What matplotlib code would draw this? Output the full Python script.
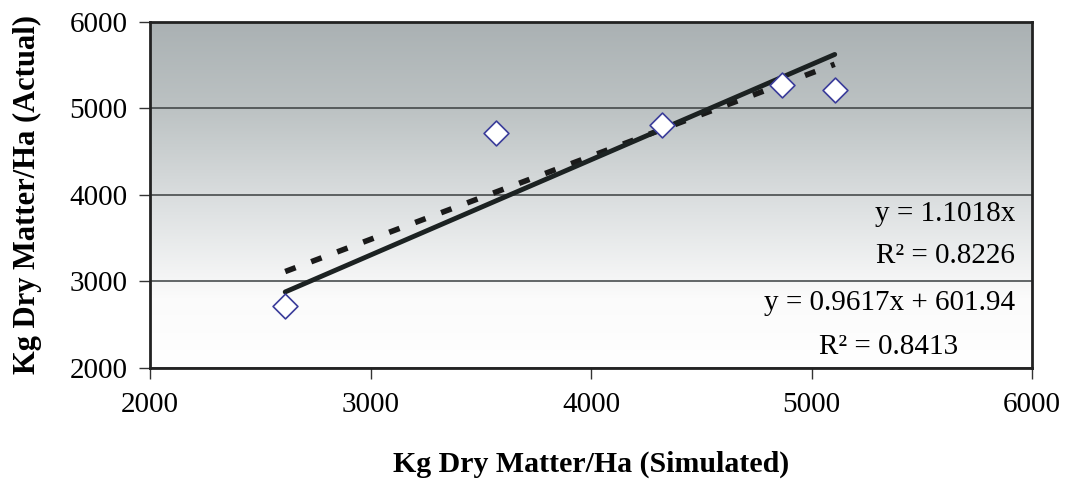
import numpy as np
import matplotlib as mpl
mpl.use("Agg")
import matplotlib.pyplot as plt
from matplotlib.colors import LinearSegmentedColormap

plt.rcParams['font.family'] = ['Liberation Serif', 'DejaVu Serif']

# simulated vs actual dry matter yield
simulated = [2613, 3568, 4320, 4864, 5105]
actual = [2719, 4712, 4804, 5277, 5212]

# trendline coefficients
slope0 = 1.1018              # through origin
r2_0 = 0.8226
slope1, icept1 = 0.9617, 601.94
r2_1 = 0.8413

xticks = [2000, 3000, 4000, 5000, 6000]
yticks = [2000, 3000, 4000, 5000, 6000]

fig = plt.figure(figsize=(10.77, 4.95), dpi=100)
ax = fig.add_axes([0.1393, 0.2566, 0.8190, 0.6990])

# gray to white vertical gradient behind the data
grad = LinearSegmentedColormap.from_list(
    "bg", [(0.0, "#ffffff"), (0.2, "#fbfbfb"), (0.45, "#dfe2e3"),
           (0.75, "#bcc2c3"), (1.0, "#aab1b3")])
ax.imshow(np.linspace(0, 1, 256).reshape(-1, 1), cmap=grad, aspect="auto",
          origin="lower", extent=[2000, 6000, 2000, 6000], zorder=0)

ax.set_xlim(2000, 6000)
ax.set_ylim(2000, 6000)
ax.set_xticks(xticks)
ax.set_yticks(yticks)
ax.tick_params(axis="both", labelsize=21, length=8, width=1, direction="out",
               color="#333333")
ax.tick_params(axis="y", pad=8)
ax.tick_params(axis="x", pad=9)
ax.yaxis.grid(True, color="#3a3f40", linewidth=1.1, zorder=1)
for s in ax.spines.values():
    s.set_color("#222222")
    s.set_linewidth(2)

xs = np.array([min(simulated), max(simulated)])
ax.plot(xs, slope1 * xs + icept1, color="#1a1a1a", linewidth=4,
        linestyle=(0, (2.0, 3.0)), zorder=3)
ax.plot(xs, slope0 * xs, color="#1c2222", linewidth=3.5,
        solid_capstyle="round", zorder=4)
ax.scatter(simulated, actual, marker="D", s=160, facecolors="white",
           edgecolors="#3a3c9a", linewidths=1.2, zorder=5)

eq = dict(ha="right", va="center", fontsize=21)
ax.text(5923, 3780, f"y = {slope0}x", **eq)
ax.text(5923, 3295, f"R² = {r2_0}", **eq)
ax.text(5923, 2751, f"y = {slope1}x + {icept1}", **eq)
ax.text(5664, 2243, f"R² = {r2_1}", **eq)

ax.set_xlabel("Kg Dry Matter/Ha (Simulated)", fontsize=21.5, fontweight="bold",
              labelpad=24)
ax.set_ylabel("Kg Dry Matter/Ha (Actual)", fontsize=22, fontweight="bold",
              labelpad=20)

fig.savefig("out.png", dpi=100)
